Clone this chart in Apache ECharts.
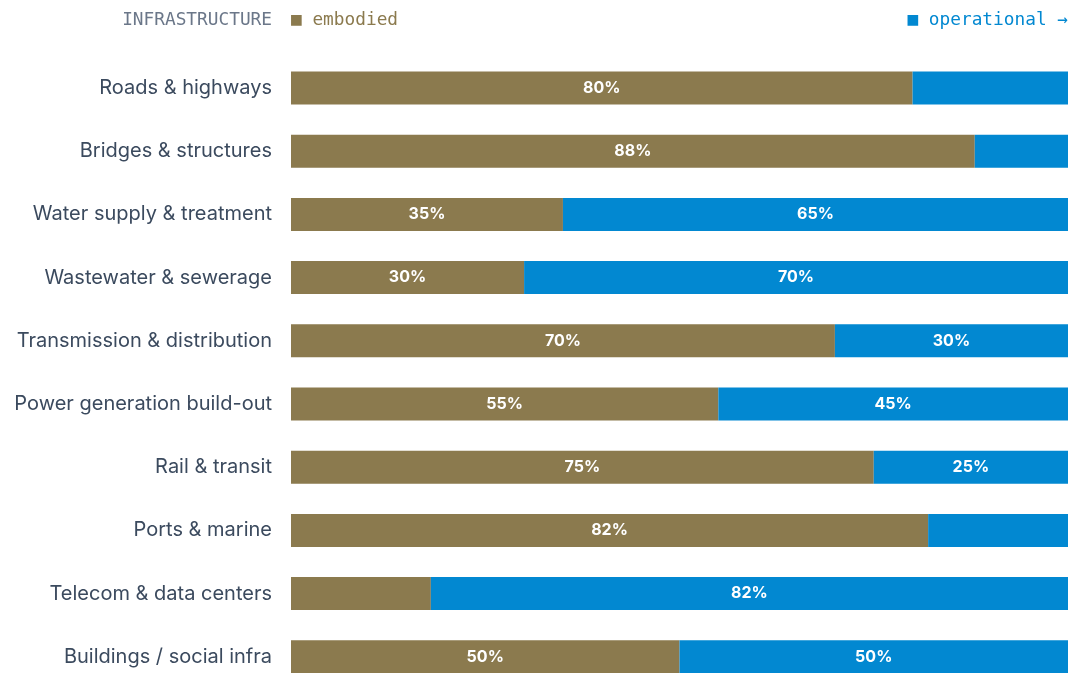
<!DOCTYPE html>
<html>
<head>
<meta charset="utf-8">
<script src="https://cdn.jsdelivr.net/npm/echarts@6/dist/echarts.min.js"></script>
<style>
  html, body { margin: 0; padding: 0; background: #ffffff; overflow: hidden; }
  /* the last row's band runs past the visible bottom edge */
  #chart { width: 1069px; height: 689px; }
</style>
</head>
<body>
<div id="chart"></div>
<script>
// Infrastructure categories, top to bottom
const categories = [
  'Roads & highways',
  'Bridges & structures',
  'Water supply & treatment',
  'Wastewater & sewerage',
  'Transmission & distribution',
  'Power generation build-out',
  'Rail & transit',
  'Ports & marine',
  'Telecom & data centers',
  'Buildings / social infra'
];
// Share of lifetime emissions (%)
const embodied    = [80, 88, 35, 30, 70, 55, 75, 82, 18, 50];
const operational = [20, 12, 65, 70, 30, 45, 25, 18, 82, 50];

const BROWN = '#8b7a4e';
const BLUE = '#0288d1';
const MONO = '"DejaVu Sans Mono", "Liberation Mono", monospace';

// Only label segments wide enough to hold text
const segLabel = {
  show: true,
  position: 'inside',
  color: '#ffffff',
  fontFamily: 'Inter, "Noto Sans", sans-serif',
  fontWeight: 'bold',
  fontSize: 16,
  formatter: p => (p.value >= 25 ? p.value + '%' : '')
};

const chart = echarts.init(document.getElementById('chart'), null, { renderer: 'canvas' });
chart.setOption({
  animation: false,
  grid: { left: 291, right: 1, top: 56.4, bottom: 0.6 },
  xAxis: {
    type: 'value', min: 0, max: 100,
    show: false
  },
  yAxis: {
    type: 'category',
    data: categories,
    inverse: true,
    axisLine: { show: false },
    axisTick: { show: false },
    axisLabel: {
      margin: 19,
      color: '#3b4a5e',
      fontFamily: 'Inter, "Noto Sans", sans-serif',
      fontSize: 20
    }
  },
  series: [
    {
      name: 'embodied', type: 'bar', stack: 'total',
      data: embodied, barWidth: 33,
      itemStyle: { color: BROWN },
      label: segLabel
    },
    {
      name: 'operational', type: 'bar', stack: 'total',
      data: operational, barWidth: 33,
      itemStyle: { color: BLUE },
      label: segLabel
    }
  ],
  graphic: [
    {
      type: 'text', x: 272, y: 20,
      style: {
        text: 'INFRASTRUCTURE', fill: '#6b7789', font: '17.8px ' + MONO,
        textAlign: 'right', textVerticalAlign: 'middle'
      }
    },
    {
      type: 'text', x: 291, y: 20,
      style: {
        text: '■ embodied', fill: BROWN, font: '17.8px ' + MONO,
        textAlign: 'left', textVerticalAlign: 'middle'
      }
    },
    {
      type: 'text', x: 1068, y: 20,
      style: {
        text: '■ operational →', fill: BLUE, font: '17.8px ' + MONO,
        textAlign: 'right', textVerticalAlign: 'middle'
      }
    }
  ]
});
</script>
</body>
</html>
